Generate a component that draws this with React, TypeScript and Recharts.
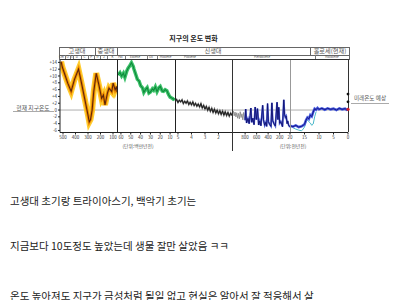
import React from 'react';
import { LineChart, Line, XAxis, YAxis, ReferenceLine, ReferenceDot } from 'recharts';

// 고생대~중생대 (백만년 전)
const paleoAge = [515, 506, 484, 462, 435, 408, 376, 354, 327, 300, 290, 280, 267, 254, 234, 213, 191, 177, 164, 145, 132, 110, 99, 83, 72, 67];
const paleoTemp = [14.2, 12.7, 10.3, 7.9, 5.5, 9.0, 12.0, 8.3, 3.4, -1.5, -3.5, -2.8, 0.0, 5.4, 10.8, 7.4, 3.4, 4.4, 1.5, 4.9, 6.4, 5.4, 7.9, 5.9, 6.9, 5.2];

// 신생대 (백만년 전)
const cenoAge = [63, 61, 59.3, 57.5, 56, 54, 52.7, 51, 49.3, 47.5, 46.7, 45, 43.3, 41.5, 40, 38, 36.7, 35, 33.3, 31.5, 30, 28, 26.7, 25, 23.3, 21.5, 20, 18, 16.7, 15, 13.3, 11.5, 10, 8, 6.7, 5.3];
const cenoTemp = [10.3, 11.0, 10.0, 10.8, 9.6, 11.5, 12.3, 13.0, 13.9, 12.8, 12.0, 10.5, 9.0, 8.5, 7.2, 6.5, 5.2, 6.0, 6.6, 5.0, 5.3, 6.2, 5.8, 6.8, 5.4, 6.5, 6.9, 5.6, 5.5, 6.0, 5.7, 4.5, 3.8, 3.5, 3.2, 3.4];

// 플라이오세 (백만년 전)
const plioAge = [5.3, 5.2, 5.1, 5.0, 4.9, 4.8, 4.7, 4.6, 4.5, 4.4, 4.3, 4.2, 4.1, 4.0, 3.9, 3.8, 3.7, 3.6, 3.5, 3.4, 3.3, 3.2, 3.1, 3.0, 2.9, 2.8, 2.7, 2.6, 2.5, 2.4, 2.3, 2.2, 2.1, 2.0, 1.9, 1.8, 1.7, 1.6, 1.5, 1.4, 1.3, 1.2, 1.1, 1.0];
const plioTemp = [3.4, 2.6, 3.1, 2.2, 2.9, 2.4, 3.0, 1.9, 2.6, 2.0, 2.7, 1.6, 2.3, 1.5, 2.4, 1.3, 2.0, 1.1, 1.8, 0.9, 1.9, 0.6, 1.4, 0.3, 1.1, -0.1, 0.8, -0.4, 0.5, -0.7, 0.3, -0.9, 0.0, -1.1, -0.2, -1.3, -0.3, -1.5, -0.5, -1.6, -0.7, -1.8, -0.9, -1.6];

// 플라이스토세 (천년 전)
const pleiGrayAge = [1020, 1005, 990, 975, 960, 945, 930, 915, 900, 885, 870, 855, 840, 825, 810, 800];
const pleiGrayTemp = [-1.2, -0.3, -1.7, -0.6, -2.0, -0.8, -2.4, -1.0, -2.6, -0.5, -2.2, -1.1, -2.9, -0.7, -2.5, -2.8];
const pleiBlueAge = [800, 790, 775, 750, 730, 712, 700, 685, 665, 645, 625, 605, 585, 565, 545, 525, 495, 480, 460, 440, 425, 410, 395, 375, 350, 335, 320, 300, 275, 245, 230, 215, 200, 180, 150, 128, 115, 100, 85, 70, 60, 45, 30, 20];
const pleiBlueTemp = [-3.0, 0.3, -3.8, -2.5, -4.0, -1.5, 0.6, -3.6, -2.4, -4.3, 0.9, -2.8, 0.4, -4.4, -3.2, -4.6, 1.4, -2.9, -4.5, -3.6, -4.8, 1.9, -3.4, -4.2, -4.8, 2.1, -3.1, -4.0, -4.7, 2.3, -2.8, 0.8, -3.9, -3.4, -4.9, 3.0, -1.2, -2.2, -1.8, -4.0, -3.2, -4.4, -4.8, -5.0];

// 홀로세 (천년 전)
const holoAge = [20, 19, 18, 17, 16, 15, 14.5, 14, 13.5, 13, 12.5, 12, 11.5, 11, 10.5, 10, 9, 8, 7, 6, 5, 4, 3, 2, 1, 0.5, 0];
const holoTemp = [-4.6, -4.9, -4.5, -5.0, -4.8, -4.2, -3.0, -2.2, -2.6, -1.5, -1.9, -0.6, 0.4, 0.1, 0.6, 0.2, 0.5, 0.1, 0.5, 0.2, 0.4, 0.0, 0.5, 0.2, 0.4, 0.1, 0.3];
const cyanAge = [19, 18, 17, 16, 15.5, 15, 14.5, 14, 13.5, 13, 12.5, 12, 11.5, 11];
const cyanTemp = [-5.2, -5.6, -5.9, -6.1, -5.6, -5.0, -3.6, -3.0, -3.4, -3.8, -4.5, -4.1, -2.0, -0.5];
const futureTemp = [4.7, 2.4];

const yTicks = [-6, -4, -2, 0, 2, 4, 6, 8, 10, 12, 14];
const paleoTicks = [500, 400, 300, 200, 100];
const cenoTicks = [60, 50, 40, 30, 20, 10];
const plioTicks = [5, 4, 3, 2];
const pleiTicks = [800, 600, 400, 200];
const holoTicks = [20, 15, 10, 5, 0];

const eraNames = ['고생대', '중생대', '신생대', '홀로세(현재)'];
const periodNames = ['Cm', 'O', 'S', 'D', 'C', 'P', 'Tr', 'J', 'K'];
const epochNames = ['Pal', 'Eocene', 'Oli', 'Miocene', 'Pliocene', 'Pleistocene', 'Holocene'];
const bodyLines = [
  '고생대 초기랑 트라이아스기, 백악기 초기는',
  '지금보다 10도정도 높았는데 생물 잘만 살았음 ㅋㅋ',
  '온도 높아져도 지구가 금성처럼 될일 없고 현실은 알아서 잘 적응해서 살',
];

const FONT = '"Noto Sans CJK KR", "Noto Sans", sans-serif';
const PLOT_TOP = 59.5;
const PLOT_H = 72.5;
const AXIS_H = 12;
const PAD = 8;

const zip = (ages, temps) => ages.map((a, i) => ({ age: a, temp: temps[i] }));

const Txt = ({ x, y, size, color = '#555', weight = 400, children }) => (
  <div style={{ position: 'absolute', left: x, top: y, transform: 'translate(-50%, -50%)', fontSize: size, lineHeight: 1, color, fontWeight: weight, whiteSpace: 'nowrap', fontFamily: FONT }}>
    {children}
  </div>
);

const Rule = ({ x, y, w, h, color = '#333' }) => (
  <div style={{ position: 'absolute', left: x, top: y, width: w, height: h, background: color }} />
);

function Panel({ left, width, domain, ticks, series, yAxis = false, dots = [] }) {
  const yW = yAxis ? 14 : 0;
  const padL = yAxis ? 2 : PAD;
  return (
    <div style={{ position: 'absolute', left: left - padL - yW, top: PLOT_TOP }}>
      <LineChart width={width + padL + yW + PAD} height={PLOT_H + AXIS_H} margin={{ top: 0, right: PAD, bottom: 0, left: padL }}>
        <XAxis type="number" dataKey="age" domain={domain} reversed allowDataOverflow ticks={ticks} interval={0}
          height={AXIS_H} tickSize={2} tickMargin={1} axisLine={{ stroke: '#222' }} tickLine={{ stroke: '#222' }}
          tick={{ fontSize: 4.5, fill: '#333', fontFamily: FONT }} />
        <YAxis type="number" domain={[-6.6, 14.7]} allowDataOverflow hide={!yAxis} width={yW} ticks={yTicks} interval={0}
          tickSize={2} tickMargin={1} axisLine={{ stroke: '#222' }} tickLine={{ stroke: '#222' }}
          tick={{ fontSize: 4.5, fill: '#333', fontFamily: FONT }} tickFormatter={(v) => (v > 0 ? `+${v}` : `${v}`)} />
        <ReferenceLine y={0} stroke="#999" strokeWidth={0.8} />
        {series.map((s, i) => (
          <Line key={i} data={s.data} dataKey="temp" type="linear" stroke={s.color} strokeWidth={s.width}
            strokeOpacity={s.opacity ?? 1} dot={false} isAnimationActive={false} />
        ))}
        {dots.map((d, i) => (
          <ReferenceDot key={i} x={d.age} y={d.temp} r={d.r} fill={d.color} stroke="none" ifOverflow="visible" />
        ))}
      </LineChart>
    </div>
  );
}

export default function App() {
  const paleo = zip(paleoAge, paleoTemp);
  const ceno = zip(cenoAge, cenoTemp);
  const plio = zip(plioAge, plioTemp);
  const pleiGray = zip(pleiGrayAge, pleiGrayTemp);
  const pleiBlue = zip(pleiBlueAge, pleiBlueTemp);
  const holo = zip(holoAge, holoTemp);
  const cyan = zip(cyanAge, cyanTemp);

  const periodX = [61.4, 67.5, 71.6, 76.9, 84.4, 91.1, 97.3, 103.9, 112.4];
  const periodSep = [64.9, 70, 73.1, 80.6, 88.1, 94, 100.4, 107.4];
  const epochX = [120.5, 135, 151, 165.5, 190, 262, 332];
  const epochSep = [124.9, 146.5, 157.3, 315];

  return (
    <div style={{ position: 'absolute', left: 0, top: 0, width: 400, height: 300, background: '#fff', overflow: 'hidden', fontFamily: FONT }}>
      <Txt x={193.5} y={38} size={7} color="#222" weight={700}>지구의 온도 변화</Txt>

      {/* header boxes */}
      <Rule x={59} y={47} w={290} h={0.8} color="#666" />
      <Rule x={59} y={55} w={290} h={0.8} color="#666" />
      <Rule x={59} y={47} w={0.8} h={13} color="#666" />
      <Rule x={94.5} y={47} w={0.8} h={8} color="#666" />
      <Rule x={117} y={47} w={0.8} h={8} color="#666" />
      <Rule x={310} y={47} w={0.8} h={8} color="#666" />
      <Rule x={348.5} y={47} w={0.8} h={13} color="#666" />
      <Txt x={77} y={51.3} size={6.2}>{eraNames[0]}</Txt>
      <Txt x={106} y={51.3} size={6.2}>{eraNames[1]}</Txt>
      <Txt x={213} y={51.3} size={6.2}>{eraNames[2]}</Txt>
      <Txt x={330} y={51.3} size={6.2}>{eraNames[3]}</Txt>
      {periodNames.map((p, i) => (
        <Txt key={p} x={periodX[i]} y={57.4} size={3} color="#444">{p}</Txt>
      ))}
      {periodSep.map((x) => <Rule key={x} x={x} y={55} w={0.5} h={4.5} color="#777" />)}
      {epochNames.map((p, i) => (
        <Txt key={p} x={epochX[i]} y={57.4} size={3} color="#444">{p}</Txt>
      ))}
      {epochSep.map((x) => <Rule key={x} x={x} y={55} w={0.5} h={4.5} color="#777" />)}

      {/* plot frame */}
      <Rule x={59.5} y={59.3} w={289} h={0.8} color="#333" />
      <Rule x={348.3} y={59.3} w={0.8} h={72.7} color="#333" />

      <Panel left={60} width={57} domain={[68, 524]} ticks={paleoTicks} yAxis
        series={[
          { data: paleo, color: '#ffc61a', width: 6, opacity: 0.9 },
          { data: paleo, color: '#f08a00', width: 3 },
          { data: paleo, color: '#5c260a', width: 1.1 },
        ]} />
      <Panel left={117} width={58} domain={[5, 64]} ticks={cenoTicks}
        series={[
          { data: ceno, color: '#3cc16a', width: 3.5 },
          { data: ceno, color: '#0e8a3a', width: 1.1 },
        ]} />
      <Panel left={175} width={57} domain={[1.0, 5.22]} ticks={plioTicks}
        series={[
          { data: plio, color: '#666', width: 1.6 },
          { data: plio, color: '#111', width: 0.8 },
        ]} />
      <Panel left={232} width={58} domain={[20, 1028]} ticks={pleiTicks}
        series={[
          { data: pleiGray, color: '#8a8a8a', width: 0.9 },
          { data: pleiBlue, color: '#5366d8', width: 1.8 },
          { data: pleiBlue, color: '#10106e', width: 0.9 },
        ]} />
      <Panel left={290} width={58} domain={[0, 20]} ticks={holoTicks}
        series={[
          { data: cyan, color: '#49b7c9', width: 1 },
          { data: holo, color: '#4a5fe0', width: 2.6 },
          { data: holo, color: '#15158a', width: 1 },
        ]}
        dots={[
          { age: 0, temp: 0.2, r: 1.6, color: '#d0202a' },
          { age: 0, temp: futureTemp[0], r: 1.4, color: '#111' },
          { age: 0, temp: futureTemp[1], r: 1.4, color: '#111' },
        ]} />

      {/* panel dividers */}
      <Rule x={116.7} y={59.5} w={0.8} h={72.5} color="#222" />
      <Rule x={174.7} y={59.5} w={0.8} h={72.5} color="#222" />
      <Rule x={231.7} y={59.5} w={0.8} h={91} color="#333" />
      <Rule x={289.8} y={59.5} w={0.5} h={72.5} color="#999" />

      {/* side labels */}
      <Txt x={33} y={107.5} size={5.8}>현재 지구온도</Txt>
      <Rule x={13} y={110.5} w={41} h={0.6} color="#aaa" />
      <Txt x={370} y={98.5} size={5.6}>미래온도 예상</Txt>
      <Rule x={351} y={102.5} w={38} h={0.6} color="#aaa" />

      <Txt x={138} y={146} size={4.8}>(단위:백만년전)</Txt>
      <Txt x={293} y={146} size={4.8}>(단위:천년전)</Txt>

      {bodyLines.map((t, i) => (
        <div key={i} style={{ position: 'absolute', left: 10, top: [196, 241, 291][i], fontSize: 10.5, lineHeight: '10.5px', color: '#222', whiteSpace: 'nowrap', fontFamily: FONT }}>
          {t}
        </div>
      ))}
    </div>
  );
}
